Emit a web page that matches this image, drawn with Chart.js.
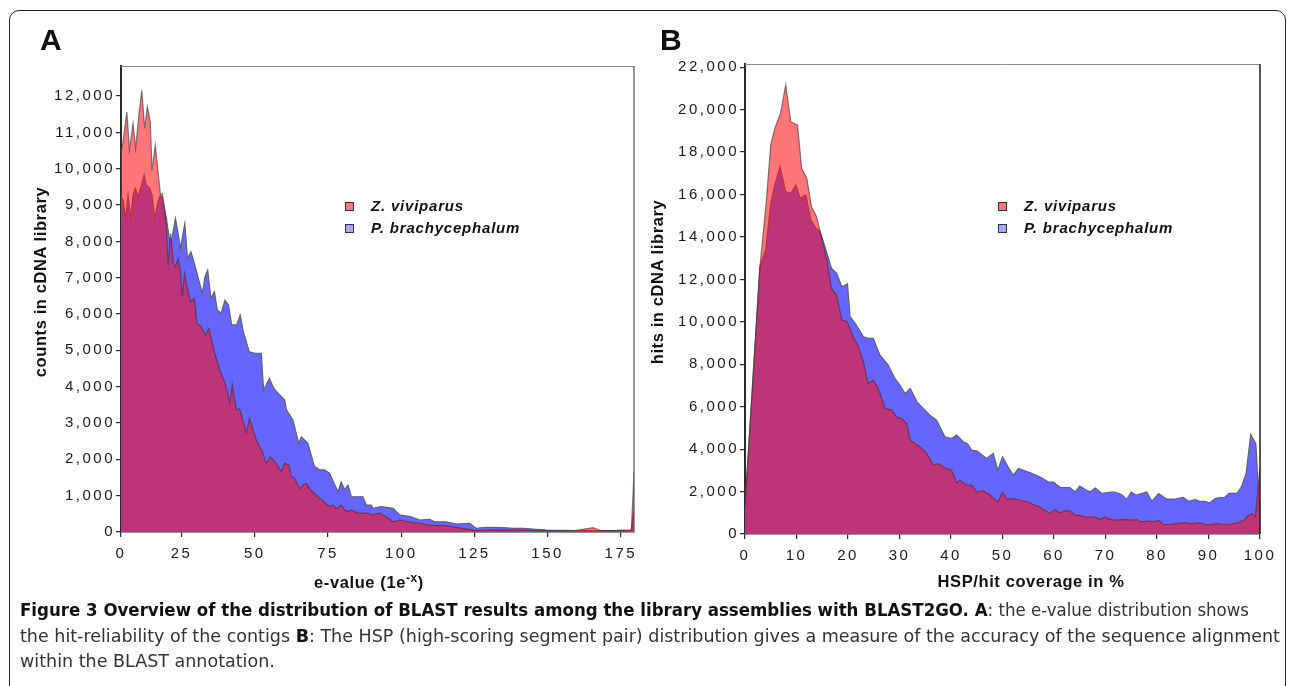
<!DOCTYPE html>
<html>
<head>
<meta charset="utf-8">
<script src="https://cdn.jsdelivr.net/npm/chart.js@4.4.0/dist/chart.umd.min.js"></script>
<style>
  html, body { margin: 0; padding: 0; background: #fff; }
  body { width: 1290px; height: 686px; position: relative; overflow: hidden;
         font-family: "Liberation Sans", Arial, sans-serif; color: #111; }
  .frame { position: absolute; left: 9px; top: 10px; width: 1277px; height: 720px;
           border: 1.5px solid #222; border-radius: 10px; box-sizing: border-box; }
  .panel { position: absolute; top: 0; width: 645px; height: 600px; }
  .letter { position: absolute; font-weight: bold; font-size: 30px; line-height: 30px; }
  .ytitle { position: absolute; font-weight: bold; font-size: 16.5px; white-space: nowrap;
            letter-spacing: 0.6px; transform: translate(-50%, -50%) rotate(-90deg); }
  .xtitle { position: absolute; font-weight: bold; font-size: 16.5px; white-space: nowrap;
            letter-spacing: 0.6px; transform: translate(-50%, -50%); }
  .xtitle sup { font-size: 12px; vertical-align: 6px; }
  .legend { position: absolute; }
  .legend .row { position: absolute; left: 0; height: 18px; white-space: nowrap; }
  .legend .box { position: absolute; left: 0; top: 5px; width: 7px; height: 7px; border: 1px solid #333; }
  .legend .txt { position: absolute; left: 26px; top: 0; font-weight: bold; font-style: italic;
                 font-size: 15px; line-height: 18px; letter-spacing: 0.8px; }
  .caption { position: absolute; left: 20px; top: 598px; font-family: "Liberation Sans Narrow", "DejaVu Sans Condensed", "Liberation Sans", sans-serif;
             font-size: 17px; color: #333; }
  .caption div { height: 25.5px; line-height: 25.5px; white-space: nowrap; transform-origin: left center; }
  .caption b { color: #111; }
</style>
</head>
<body>
<div class="frame"></div>

<div class="panel" style="left:0"><canvas id="chartA"></canvas></div>
<div class="panel" style="left:645px"><canvas id="chartB"></canvas></div>

<div class="letter" style="left:40px; top:25px">A</div>
<div class="letter" style="left:660px; top:25px">B</div>

<div class="ytitle" style="left:40px; top:282px">counts in cDNA library</div>
<div class="ytitle" style="left:657px; top:282px">hits in cDNA library</div>
<div class="xtitle" style="left:369px; top:581px">e-value (1e<sup>-x</sup>)</div>
<div class="xtitle" style="left:1031px; top:581px">HSP/hit coverage in %</div>

<div class="legend" id="legendA" style="left:345px; top:197px"></div>
<div class="legend" id="legendB" style="left:998px; top:197px"></div>

<div class="caption">
  <div id="cap1"><b>Figure 3 Overview of the distribution of BLAST results among the library assemblies with BLAST2GO. A</b>: the e-value distribution shows</div>
  <div id="cap2">the hit-reliability of the contigs <b>B</b>: The HSP (high-scoring segment pair) distribution gives a measure of the accuracy of the sequence alignment</div>
  <div id="cap3">within the BLAST annotation.</div>
</div>

<script>
// ---- data ----
const seriesNames = ["Z. viviparus", "P. brachycephalum"];

// panel A: e-value exponent vs counts
const aZx = [4.3, 5.0, 6.3, 7.2, 8.4, 9.3, 10.4, 11.4, 12.4, 13.3, 14.3, 14.9, 16.0, 16.9, 17.8, 18.4, 19.2, 19.8, 20.4, 21.2,
  22.2, 22.9, 23.8, 24.6, 25.2, 26.0, 27.0, 28.0, 29.4, 30.2, 31.7, 33.2, 34.3, 36.3, 38.0, 39.7, 40.8, 41.4, 42.3, 43.7,
  44.8, 47.1, 48.2, 50.5, 52.8, 53.9, 55.3, 57.3, 59.1, 60.2, 61.6, 62.5, 63.6, 65.3, 66.4, 67.6, 69.0, 72.1, 75.5, 76.7,
  78.0, 79.5, 81.2, 83.0, 85.2, 88.1, 90.3, 92.6, 94.9, 97.2, 99.5, 103.0, 106.3, 109.7, 115.4, 121.1, 125.6, 130.0, 140.0, 150.0,
  160.0, 165.5, 168.0, 172.3, 178.6, 179.5];
const aZ = [10470, 10740, 11560, 10520, 11250, 10560, 11480, 12160, 11110, 11710, 11290, 9960, 10650, 9960, 9270, 9320, 8900, 8400, 7350, 8220,
  7400, 7300, 7530, 7160, 6480, 7120, 6700, 6340, 6430, 5740, 5650, 5420, 5600, 4920, 4460, 4140, 3820, 3540, 4050, 3360,
  3400, 2720, 3130, 2530, 2170, 1890, 2070, 1890, 1660, 1890, 1840, 1520, 1480, 1200, 1290, 1340, 1160, 930, 700, 740,
  650, 740, 560, 600, 520, 520, 470, 520, 420, 280, 330, 270, 240, 190, 170, 100, 40, 60, 50, 40,
  45, 120, 40, 40, 55, 1650];

const aPx = [4.3, 5.0, 5.9, 6.7, 7.6, 8.4, 9.2, 10.1, 11.0, 12.2, 12.9, 14.1, 14.9, 15.8, 16.7, 17.5, 18.2, 19.0, 19.8, 20.7,
  21.5, 22.9, 23.8, 24.6, 26.1, 27.0, 28.2, 29.5, 30.7, 32.1, 33.0, 33.9, 35.0, 36.2, 37.2, 38.5, 39.8, 41.0, 42.1, 43.8,
  45.0, 46.1, 48.1, 50.1, 52.2, 53.0, 55.0, 56.5, 58.5, 60.2, 60.8, 63.0, 65.0, 65.9, 68.1, 70.4, 72.1, 73.8, 75.5, 78.4,
  79.5, 80.7, 81.8, 83.0, 86.9, 88.1, 89.8, 90.3, 93.2, 97.2, 99.5, 103.4, 106.3, 109.7, 111.4, 115.4, 118.8, 123.4, 125.6, 129.0,
  134.7, 138.2, 141.6, 149.5, 160.0, 172.3, 178.6, 179.5];
const aP = [9230, 9140, 8630, 9270, 8630, 9270, 9460, 9230, 9460, 9830, 9550, 9460, 9270, 8630, 9000, 9230, 9230, 8950, 8630, 8130,
  7990, 8630, 8220, 7810, 8490, 7530, 7710, 7350, 6980, 6570, 7030, 7210, 6430, 6610, 6110, 6020, 6380, 6250, 5700, 5700,
  5970, 5510, 4960, 4920, 4920, 3910, 4230, 3950, 3770, 3630, 3360, 3080, 2440, 2620, 2440, 1800, 1710, 1710, 1620, 1110,
  1380, 1160, 1290, 970, 970, 740, 740, 650, 700, 650, 470, 420, 330, 350, 280, 280, 220, 240, 100, 130,
  120, 100, 100, 55, 40, 40, 55, 600];

const aTickPos = [4.3, 25, 50, 75, 100, 125, 150, 175];
const aTickLabels = ["0", "25", "50", "75", "100", "125", "150", "175"];
const aYTicks = [0, 1000, 2000, 3000, 4000, 5000, 6000, 7000, 8000, 9000, 10000, 11000, 12000];

// panel B: HSP/hit coverage (%) vs hits
const bZx = [0, 2.9, 4.1, 5.0, 5.8, 6.9, 7.9, 8.9, 10.2, 11.0, 12.0, 12.9, 13.9, 14.6, 15.9, 16.8, 17.8, 18.8, 19.9, 21.0,
  21.9, 23.0, 23.9, 24.9, 25.9, 27.2, 28.5, 29.4, 30.4, 31.4, 32.1, 33.0, 34.0, 35.3, 36.6, 37.5, 39.1, 40.1, 41.1, 41.7,
  43.0, 44.0, 45.0, 46.3, 47.4, 49.1, 50.0, 50.8, 52.1, 53.4, 55.0, 56.3, 57.3, 59.2, 60.2, 61.2, 62.1, 63.1, 64.1, 65.0,
  66.0, 68.0, 68.9, 69.9, 70.9, 71.8, 73.4, 75.0, 76.0, 77.0, 78.3, 79.3, 80.3, 81.2, 82.2, 83.8, 85.4, 86.7, 88.3, 89.3,
  90.3, 91.6, 92.5, 94.2, 95.5, 96.8, 97.8, 98.5, 99.1, 100];
const bZ = [1300, 12600, 15590, 18340, 19120, 19830, 21170, 19430, 19280, 17240, 16760, 15430, 14950, 14250, 12900, 11570, 11260, 10080, 10000, 9290,
  8900, 8110, 7090, 7250, 6860, 5920, 5840, 5520, 5440, 5210, 4420, 4260, 4100, 3790, 3240, 3320, 3090, 3010, 2410, 2530,
  2300, 2300, 1980, 2030, 1860, 1510, 1980, 1640, 1670, 1590, 1510, 1350, 1270, 960, 1150, 990, 1090, 1090, 880, 880,
  800, 800, 680, 800, 690, 650, 680, 650, 680, 570, 610, 570, 650, 460, 440, 490, 520, 490, 520, 440,
  440, 490, 460, 460, 520, 650, 880, 960, 800, 3160];

const bPx = [0, 2.9, 4.0, 5.0, 5.8, 6.8, 7.9, 8.9, 9.9, 10.7, 11.8, 12.8, 13.8, 14.6, 15.9, 16.8, 17.8, 18.8, 19.9, 20.4,
  21.4, 23.0, 23.9, 24.9, 26.2, 27.8, 29.1, 30.1, 31.1, 32.1, 33.4, 34.6, 35.9, 37.2, 38.8, 40.1, 41.1, 42.4, 43.2, 44.0,
  45.0, 46.9, 48.2, 49.1, 50.0, 51.1, 52.1, 53.1, 55.3, 57.3, 58.9, 59.9, 61.2, 63.1, 64.1, 65.0, 66.0, 67.0, 68.0, 69.3,
  70.9, 71.8, 73.1, 74.1, 75.0, 76.0, 78.0, 79.0, 80.3, 81.9, 83.5, 85.1, 86.1, 87.4, 88.3, 89.3, 90.2, 91.3, 92.2, 93.1,
  94.0, 95.5, 96.4, 97.3, 98.2, 99.2, 100];
const bP = [1300, 12600, 13380, 15570, 16450, 17310, 16140, 16060, 16450, 15820, 15980, 14800, 14400, 14250, 13230, 12520, 12280, 11650, 11780, 10240,
  9930, 9290, 9220, 9220, 8430, 7960, 7330, 7010, 6620, 6860, 6230, 5920, 5600, 5360, 4580, 4500, 4660, 4340, 4260, 3950,
  3920, 3560, 3790, 3010, 3630, 3160, 2770, 3090, 2900, 2690, 2450, 2450, 2190, 2190, 1980, 2260, 2110, 1980, 2170, 1910,
  1980, 1980, 1860, 1640, 1980, 1830, 1980, 1540, 1910, 1640, 1640, 1720, 1540, 1620, 1540, 1540, 1460, 1670, 1720, 1720,
  1910, 1910, 2220, 2850, 4690, 4230, 700];

const bXTicks = [0, 10, 20, 30, 40, 50, 60, 70, 80, 90, 100];
const bYTicks = [0, 2000, 4000, 6000, 8000, 10000, 12000, 14000, 16000, 18000, 20000, 22000];

// ---- styling ----
const FONT = '"Liberation Sans", Arial, sans-serif';
const redFill = "rgba(255, 15, 20, 0.575)";
const redLine = "rgba(50, 50, 60, 0.6)";
const blueFill = "#6666ff";
const blueLine = "#626262";
const legendColors = ["#f27b7e", "#a9a9f7"];

const pts = (xs, ys) => xs.map((x, i) => ({ x: x, y: ys[i] }));
const fixedTicks = values => scale => { scale.ticks = values.map(v => ({ value: v })); };

const spacing = {
  id: "spacing",
  beforeDraw(chart) { chart.ctx.letterSpacing = "2.5px"; }
};

const plotFrame = {
  id: "plotFrame",
  afterDraw(chart, args, opts) {
    const { ctx, chartArea: a } = chart;
    ctx.save();
    ctx.lineWidth = 1;
    ctx.strokeStyle = opts.topColor;
    ctx.beginPath();
    ctx.moveTo(a.left, a.top + 0.5);
    ctx.lineTo(a.right, a.top + 0.5);
    ctx.stroke();
    ctx.strokeStyle = opts.rightColor;
    ctx.lineWidth = opts.rightWidth;
    ctx.beginPath();
    ctx.moveTo(a.right, a.top);
    ctx.lineTo(a.right, a.bottom);
    ctx.stroke();
    ctx.restore();
  }
};

function makeChart(id, d) {
  return new Chart(document.getElementById(id), {
    type: "line",
    data: {
      datasets: [
        { label: seriesNames[0], data: pts(d.zx, d.z), fill: "origin", backgroundColor: redFill,
          borderColor: redLine, borderWidth: 1.2, pointRadius: 0, tension: 0 },
        { label: seriesNames[1], data: pts(d.px, d.p), fill: "origin", backgroundColor: blueFill,
          borderColor: blueLine, borderWidth: 1.2, pointRadius: 0, tension: 0 }
      ]
    },
    options: {
      responsive: true,
      maintainAspectRatio: false,
      animation: false,
      layout: { padding: { top: d.top, right: d.right, left: 0, bottom: 0 } },
      plugins: {
        legend: { display: false },
        tooltip: { enabled: false },
        plotFrame: d.frame
      },
      scales: {
        x: {
          type: "linear",
          min: d.xmin, max: d.xmax,
          afterFit(scale) { scale.height = d.xh; },
          afterBuildTicks: fixedTicks(d.xticks),
          border: { display: true, color: "#2a2a2a", width: 1.5 },
          grid: { display: true, drawOnChartArea: false, drawTicks: true, tickLength: 5, color: "#2a2a2a", lineWidth: 1.2 },
          ticks: { font: { family: FONT, size: 15 }, color: "#1a1a1a", padding: 8, maxRotation: 0,
                   autoSkip: false, callback: (v, i) => d.xlabels[i] }
        },
        y: {
          type: "linear",
          min: 0, max: d.ymax,
          afterFit(scale) { scale.width = d.yw; },
          afterBuildTicks: fixedTicks(d.yticks),
          border: { display: true, color: "#2a2a2a", width: 2 },
          grid: { display: true, drawOnChartArea: false, drawTicks: true, tickLength: 5, color: "#2a2a2a", lineWidth: 1.2 },
          ticks: { font: { family: FONT, size: 15 }, color: "#1a1a1a", padding: 1, autoSkip: false,
                   callback: v => v.toLocaleString("en-US") }
        }
      }
    },
    plugins: [spacing, plotFrame]
  });
}

makeChart("chartA", {
  zx: aZx, z: aZ, px: aPx, p: aP,
  top: 66, right: 11, xh: 68, yw: 121,
  xmin: 4.3, xmax: 179.5, ymax: 12827,
  xticks: aTickPos, xlabels: aTickLabels, yticks: aYTicks,
  frame: { topColor: "#8a8a8a", rightColor: "#555", rightWidth: 1.2 }
});

makeChart("chartB", {
  zx: bZx, z: bZ, px: bPx, p: bP,
  top: 64, right: 30, xh: 66, yw: 100,
  xmin: 0, xmax: 100, ymax: 22150,
  xticks: bXTicks, xlabels: bXTicks.map(String), yticks: bYTicks,
  frame: { topColor: "#8a8a8a", rightColor: "#1a1a1a", rightWidth: 1.5 }
});

// legends inside the plots
["legendA", "legendB"].forEach(id => {
  const el = document.getElementById(id);
  seriesNames.forEach((name, i) => {
    const row = document.createElement("div");
    row.className = "row";
    row.style.top = (i * 22) + "px";
    row.innerHTML = '<span class="box" style="background:' + legendColors[i] + '"></span><span class="txt">' + name + '</span>';
    el.appendChild(row);
  });
});

// caption lines fitted to the widths in the figure
[["cap1", 1229], ["cap2", 1260]].forEach(([id, w]) => {
  const el = document.getElementById(id);
  el.style.display = "inline-block";
  const s = w / el.getBoundingClientRect().width;
  el.style.display = "block";
  el.style.transform = "scaleX(" + s + ")";
  if (id === "cap2") document.getElementById("cap3").style.transform = "scaleX(" + s + ")";
});
</script>
</body>
</html>
